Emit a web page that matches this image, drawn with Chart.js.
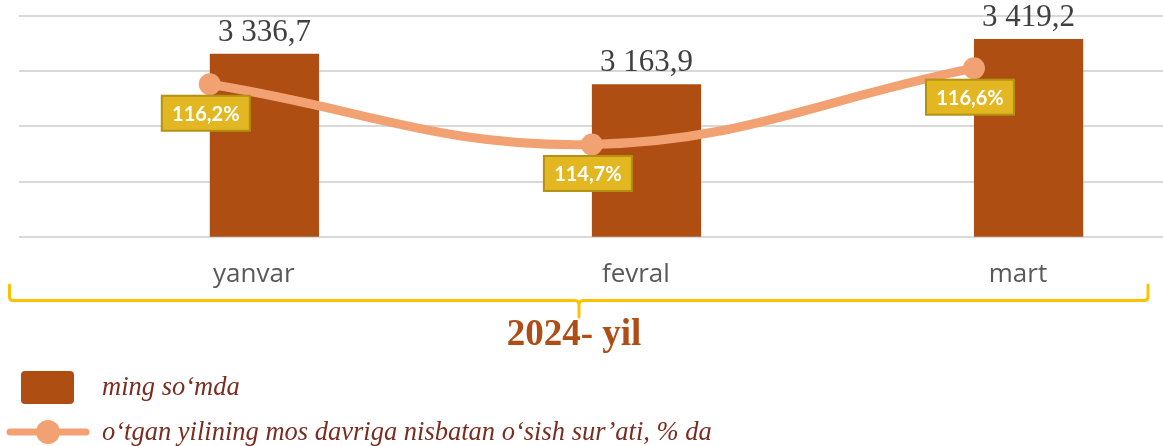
<!DOCTYPE html>
<html lang="uz">
<head>
<meta charset="utf-8">
<title>2024- yil</title>
<script src="https://cdn.jsdelivr.net/npm/chart.js@4.4.1/dist/chart.umd.min.js"></script>
<style>
    html, body { margin: 0; padding: 0; background: #fff; overflow: hidden; }
    #wrap { position: relative; width: 1163px; height: 446px; overflow: hidden; }
    #chart { position: absolute; left: 0; top: 0; }
    #bracket { position: absolute; left: 0; top: 0; }
    #period {
        position: absolute; left: 0; top: 314px; width: 1148px;
        text-align: center; font: bold 37px/1 "Liberation Serif", "Times New Roman", serif;
        color: #ae4d15;
    }
    .legend-item {
        position: absolute; left: 102px;
        font: italic 26.5px/1 "Liberation Serif", "Times New Roman", serif;
        color: #7b2c20; white-space: nowrap;
    }
    #legend-box {
        position: absolute; left: 21px; top: 371px; width: 53px; height: 33px;
        border-radius: 4px; background: #ae4e13;
    }
</style>
</head>
<body>
<div id="wrap">
    <canvas id="chart" width="1176" height="323"></canvas>
    <svg id="bracket" width="1163" height="446">
        <path d="M9.5 285 V297 Q9.5 300.5 13 300.5 H575 Q579 300.5 579 305 V317 M579 305 Q579 300.5 583 300.5 H1144 Q1148 300.5 1148 297 V285"
              fill="none" stroke="#ffc000" stroke-width="3" stroke-linecap="round"/>
        <line x1="10" y1="432" x2="86" y2="432" stroke="#f2a272" stroke-width="7" stroke-linecap="round"/>
        <circle cx="48" cy="432" r="12" fill="#f2a272"/>
    </svg>
    <div id="period"></div>
    <div id="legend-box"></div>
    <div class="legend-item" id="legend-bar" style="top:373px"></div>
    <div class="legend-item" id="legend-line" style="top:418px"></div>
</div>
<script>
// Oylar va qiymatlar
const months = ['yanvar', 'fevral', 'mart'];
const amounts = [3336.7, 3163.9, 3419.2];      // ming so'm
const growthRates = [116.2, 114.7, 116.6];     // %
const periodTitle = '2024- yil';
const seriesNames = ['ming so‘mda', 'o‘tgan yilining mos davriga nisbatan o‘sish sur’ati, % da'];

document.getElementById('period').textContent = periodTitle;
document.getElementById('legend-bar').textContent = seriesNames[0];
document.getElementById('legend-line').textContent = seriesNames[1];

const barColor = '#ae4e13';
const lineColor = '#f2a272';

function formatAmount(v) {
    const [int, dec] = v.toFixed(1).split('.');
    return int.replace(/\B(?=(\d{3})+(?!\d))/g, ' ') + ',' + dec;
}

function formatRate(v) {
    return v.toFixed(1).replace('.', ',') + '%';
}

// Ustunlar ustidagi qiymatlar va chiziq nuqtalari ostidagi sariq yorliqlar
const valueLabels = {
    id: 'valueLabels',
    afterDatasetsDraw(chart) {
        const ctx = chart.ctx;
        ctx.save();

        const barMeta = chart.getDatasetMeta(2);
        ctx.font = '31px "Liberation Serif", "Times New Roman", serif';
        ctx.fillStyle = '#404040';
        ctx.textAlign = 'center';
        ctx.textBaseline = 'alphabetic';
        barMeta.data.forEach((bar, i) => {
            ctx.fillText(formatAmount(amounts[i]), bar.x, bar.y - 13);
        });

        const lineMeta = chart.getDatasetMeta(0);
        ctx.font = 'bold 20px Lato, "Open Sans", sans-serif';
        ctx.textBaseline = 'middle';
        lineMeta.data.forEach((pt, i) => {
            const w = 88, h = 35;
            const cx = pt.x - 4, cy = pt.y + 29;
            ctx.fillStyle = '#e3b722';
            ctx.fillRect(cx - w / 2, cy - h / 2, w, h);
            ctx.strokeStyle = '#b39112';
            ctx.lineWidth = 2;
            ctx.strokeRect(cx - w / 2, cy - h / 2, w, h);
            ctx.fillStyle = '#ffffff';
            ctx.fillText(formatRate(growthRates[i]), cx, cy + 1);
        });

        ctx.restore();
    }
};

const ctx = document.getElementById('chart').getContext('2d');
new Chart(ctx, {
    type: 'bar',
    data: {
        labels: months,
        datasets: [
            {
                type: 'line',
                label: seriesNames[1],
                data: growthRates,
                yAxisID: 'y2',
                borderColor: lineColor,
                borderWidth: 9,
                pointRadius: 11,
                pointBackgroundColor: lineColor,
                pointBorderWidth: 0,
                tension: 0.4,
                order: 0
            },
            {
                // bo'sh ustun: asosiy ustunni toifa markazidan o'ngga suradi
                label: '',
                data: months.map(() => null),
                backgroundColor: 'rgba(0,0,0,0)',
                order: 1
            },
            {
                label: seriesNames[0],
                data: amounts,
                backgroundColor: barColor,
                order: 1
            }
        ]
    },
    options: {
        responsive: false,
        animation: false,
        devicePixelRatio: 1,
        layout: {
            padding: { left: 18.75, right: 3.75, top: 16, bottom: 11 }
        },
        datasets: {
            bar: {
                categoryPercentage: 0.572,
                barPercentage: 1
            }
        },
        scales: {
            x: {
                grid: { display: false, drawTicks: false },
                border: { display: false },
                ticks: {
                    color: '#595959',
                    font: { family: '"Open Sans", sans-serif', size: 26 },
                    padding: 22,
                    labelOffset: 44
                }
            },
            y: {
                min: 2300,
                max: 3550,
                grid: { color: '#d9d9d9', lineWidth: 2, drawTicks: false },
                border: { display: false },
                ticks: { display: false, stepSize: 312.5 }
            },
            y2: {
                display: false,
                min: 112.4,
                max: 117.9
            }
        },
        plugins: {
            legend: { display: false },
            tooltip: { enabled: false }
        }
    },
    plugins: [valueLabels]
});
</script>
</body>
</html>
